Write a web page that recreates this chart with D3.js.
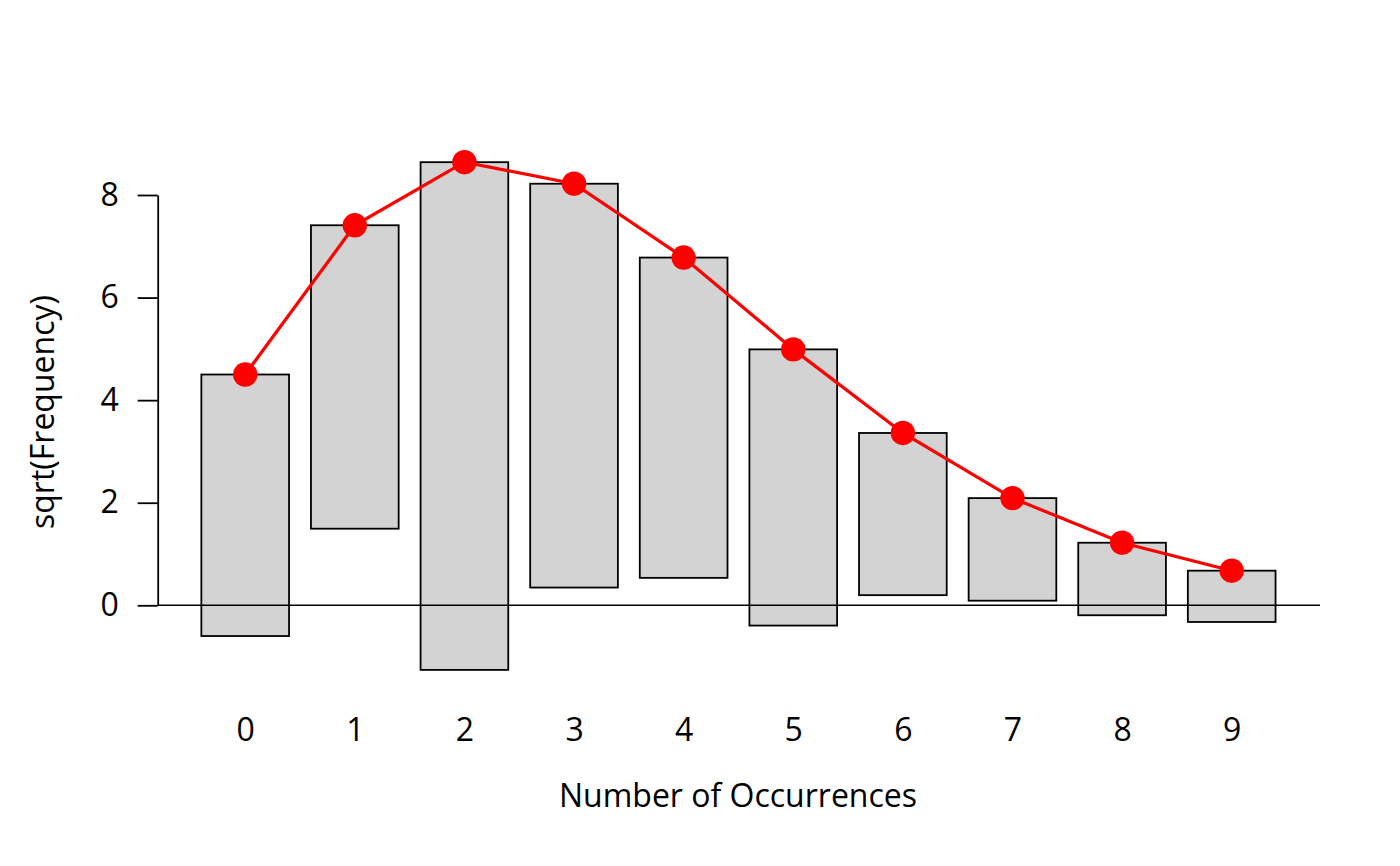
<!DOCTYPE html>
<html>
<head>
<meta charset="utf-8">
<script src="https://cdn.jsdelivr.net/npm/d3@7"></script>
<style>
	body { margin: 0; background: #fff; }
	text { font-family: "Open Sans", "Noto Sans", sans-serif; fill: #000; }
</style>
</head>
<body>
<svg class="canvas"></svg>
<script>
// counts 0..9, observed frequencies and fitted sqrt(expected)
var counts = [0, 1, 2, 3, 4, 5, 6, 7, 8, 9];
var observed = [26, 35, 98, 62, 39, 29, 10, 4, 2, 1];
var fittedSqrt = [4.50, 7.41, 8.64, 8.22, 6.78, 4.99, 3.36, 2.09, 1.22, 0.675];
var yTicks = [0, 2, 4, 6, 8];

var width = 1400,
	height = 866;

var FONT = 32;
var BAR_W = 0.8;

var svg = d3.select(".canvas")
	.attr("width", width)
	.attr("height", height);

var x = d3.scaleLinear().domain([0, 9]).range([245.2, 1231.7]);
var y = d3.scaleLinear().domain([0, 8]).range([605.3, 195]);

var step = x(1) - x(0);

// hanging bars: top at fitted value, hanging down by sqrt(observed)
var bars = counts.map(function(c, i) {
	return { c: c, top: fittedSqrt[i], bottom: fittedSqrt[i] - Math.sqrt(observed[i]) };
});

svg.selectAll("rect.bar").data(bars)
	.enter().append("rect")
	.attr("class", "bar")
	.attr("x", function(d) { return x(d.c) - step * BAR_W / 2; })
	.attr("width", step * BAR_W)
	.attr("y", function(d) { return y(d.top); })
	.attr("height", function(d) { return y(d.bottom) - y(d.top); })
	.attr("fill", "#d3d3d3")
	.attr("stroke", "#000")
	.attr("stroke-width", 1.8);

// reference line at zero
svg.append("line")
	.attr("x1", 157.7)
	.attr("x2", 1320)
	.attr("y1", y(0))
	.attr("y2", y(0))
	.attr("stroke", "#000")
	.attr("stroke-width", 1.6);

// fitted curve
var line = d3.line()
	.x(function(d, i) { return x(counts[i]); })
	.y(function(d) { return y(d); });

svg.append("path")
	.datum(fittedSqrt)
	.attr("d", line)
	.attr("fill", "none")
	.attr("stroke", "#ff0000")
	.attr("stroke-width", 3.2);

svg.selectAll("circle.pt").data(fittedSqrt)
	.enter().append("circle")
	.attr("class", "pt")
	.attr("cx", function(d, i) { return x(counts[i]); })
	.attr("cy", function(d) { return y(d); })
	.attr("r", 12.2)
	.attr("fill", "#ff0000");

// y axis
var yAxis = svg.append("g")
	.attr("transform", "translate(157.7,0)")
	.call(d3.axisLeft(y).tickValues(yTicks).tickSize(20).tickSizeOuter(0).tickPadding(19));
yAxis.selectAll("path, line").attr("stroke", "#000").attr("stroke-width", 1.8);
yAxis.selectAll("text").attr("font-size", FONT).attr("font-family", null).attr("fill", "#000");

// x axis: labels only
var xAxis = svg.append("g")
	.attr("transform", "translate(0,718)")
	.call(d3.axisBottom(x).tickValues(counts).tickSize(0).tickPadding(0).tickFormat(d3.format("d")));
xAxis.select(".domain").remove();
xAxis.selectAll("text").attr("font-size", FONT).attr("font-family", null).attr("fill", "#000");

// axis titles
svg.append("text")
	.attr("x", 738)
	.attr("y", 806.5)
	.attr("text-anchor", "middle")
	.attr("font-size", FONT)
	.text("Number of Occurrences");

svg.append("text")
	.attr("transform", "translate(54,412) rotate(-90)")
	.attr("text-anchor", "middle")
	.attr("font-size", FONT)
	.text("sqrt(Frequency)");
</script>
</body>
</html>
